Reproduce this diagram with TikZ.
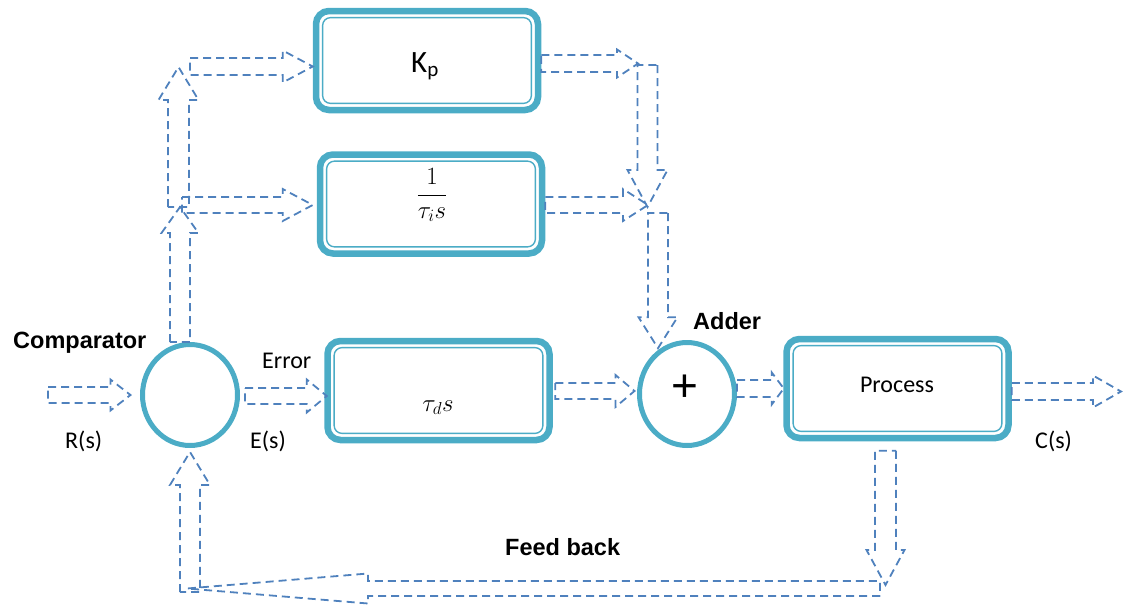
\documentclass[tikz,border=0pt]{standalone}
\usepackage{fontspec}
\setmainfont{Carlito}
\newfontfamily\labfont{Liberation Sans}
\usetikzlibrary{calc,shapes.geometric}

\definecolor{aqua}{HTML}{4BACC6}
\definecolor{flowblue}{HTML}{4F81BD}

\tikzset{
  % block-arrow geometry: shaft half width, head half width, head length
  bsw/.store in=\bsw, bhw/.store in=\bhw, bhl/.store in=\bhl,
  bsw=8pt, bhw=16pt, bhl=20pt,
  flow/.style={draw=flowblue, line width=1.8pt, dash pattern=on 8pt off 5pt,
    line join=miter,
    to path={($(\tikztostart)!\bsw!90:(\tikztotarget)$)
      -- ($(\tikztotarget)!\bhl!(\tikztostart)!\bsw!90:(\tikztotarget)$)
      -- ($(\tikztotarget)!\bhl!(\tikztostart)!\bhw!90:(\tikztotarget)$)
      -- (\tikztotarget)
      -- ($(\tikztotarget)!\bhl!(\tikztostart)!\bhw!-90:(\tikztotarget)$)
      -- ($(\tikztotarget)!\bhl!(\tikztostart)!\bsw!-90:(\tikztotarget)$)
      -- ($(\tikztostart)!\bsw!-90:(\tikztotarget)$) -- cycle}},
  block/.style={draw=aqua, line width=6.5pt, rounded corners=13pt, fill=white,
    minimum width=222pt, minimum height=99pt, inner sep=0pt,
    path picture={\draw[aqua, line width=1.4pt, rounded corners=8pt]
      ([xshift=6.6pt,yshift=-6.6pt]path picture bounding box.north west) rectangle
      ([xshift=-6.6pt,yshift=6.6pt]path picture bounding box.south east);}},
  ring/.style={ellipse, draw=aqua, line width=5pt, fill=white, inner sep=0pt},
  lab/.style={inner sep=0pt, font=\fontsize{24}{28}\selectfont},
  blab/.style={inner sep=0pt, font=\labfont\bfseries\fontsize{23.5}{28}\selectfont},
}

\begin{document}
\begin{tikzpicture}[x=1pt,y=-1pt]
\useasboundingbox (0,0) rectangle (1132,605);

% blocks
\node[block] (kp)   at (427,60.5)  {};
\node[block] (ti)   at (431,204)   {};
\node[block] (td)   at (438.5,390.5) {};
\node[block] (proc) at (897.5,388.5) {};
\node[ring, minimum width=95pt, minimum height=101pt] (cmp) at (190,395) {};
\node[ring, minimum width=95pt, minimum height=103pt] (add) at (687,394) {};

% block contents
\node[inner sep=0pt, anchor=base west] (kptext) at (411,72) {\fontsize{31}{32}\selectfont K\raisebox{-4pt}{\fontsize{21}{22}\selectfont p}};
\node[inner sep=0pt] (titext) at (432,195) {\fontsize{23}{28}\selectfont $\displaystyle\frac{1}{\tau_i s}$};
\node[inner sep=0pt, anchor=base] (tdtext) at (438,411) {\fontsize{27}{30}\selectfont $\tau_d s$};
\node[lab, anchor=base] (proctext) at (897,392) {Process};
\node[inner sep=0pt] (plus) at (685,388) {\labfont\fontsize{46}{46}\selectfont +};

% labels
\node[blab, anchor=base west] (lcmp) at (13,348) {Comparator};
\node[blab, anchor=base west] (ladd) at (693,329) {Adder};
\node[blab, anchor=base west] (lfb)  at (505,555) {Feed back};
\node[lab, anchor=base west] (lrs)  at (65,448)   {R(s)};
\node[lab, anchor=base west] (les)  at (250,448)  {E(s)};
\node[lab, anchor=base west] (lerr) at (262,368)  {Error};
\node[lab, anchor=base west] (lcs)  at (1035,448) {C(s)};

% free ends and bends of the flow arrows
\coordinate (rin) at (48,395);
\coordinate (cout) at (1121,391.5);
\coordinate (j1a) at (638,63.5);
\coordinate (j1b) at (647.5,65);
\coordinate (j1c) at (647.5,207);
\coordinate (j2a) at (648,205);
\coordinate (j2b) at (658,213);
\coordinate (c2) at (180,207);
\coordinate (c3) at (182,205);
\coordinate (c4) at (178.5,207);
\coordinate (c5) at (178.5,67);
\coordinate (c6) at (190,66.5);
\coordinate (f2) at (885.5,585);
\coordinate (f3) at (880,588.5);
\coordinate (f4) at (187,588.5);
\coordinate (f5) at (190,592);

% forward path
\draw[flow, bhl=20pt, bhw=15.5pt] (rin) to ([xshift=-9.5pt]cmp.west);
\draw[flow, bhl=20pt, bhw=16.5pt] ([xshift=5pt,yshift=-1pt]cmp.east) to ([xshift=2.5pt,yshift=-5.5pt]td.west);
\draw[flow, bhl=19pt, bhw=16pt] ([xshift=2.5pt,yshift=-0.5pt]td.east) to ([xshift=-2.5pt,yshift=3pt]add.west);
\draw[flow, bhl=12pt, bhw=16pt, bsw=8.5pt] ([yshift=5.5pt]add.east) to ([xshift=0.5pt]proc.west);
\draw[flow, bhl=28pt, bhw=16pt, bsw=8.5pt] ([yshift=-3pt]proc.east) to (cout);

% branches to the proportional and integral blocks
\draw[flow, bhl=26pt, bhw=18.5pt, bsw=10pt] ([xshift=-10pt]cmp.north) to (c2);
\draw[flow, bhl=30pt, bhw=16pt] (c3) to ([xshift=-4pt,yshift=-1pt]ti.west);
\draw[flow, bhl=33pt, bhw=20pt, bsw=10.5pt] (c4) to (c5);
\draw[flow, bhl=30pt, bhw=16pt, bsw=8.5pt] (c6) to ([yshift=-6pt]kp.west);

% outputs of the blocks into the adder
\draw[flow, bhl=21pt, bhw=14pt, bsw=8.5pt] ([yshift=-3pt]kp.east) to (j1a);
\draw[flow, bhl=37pt, bhw=20pt, bsw=10pt] (j1b) to (j1c);
\draw[flow, bhl=25pt, bhw=16pt] ([yshift=-1pt]ti.east) to (j2a);
\draw[flow, bhl=31pt, bhw=19.5pt, bsw=10pt] (j2b) to (j2b |- add.120);

% feedback loop
\draw[flow, bhl=35pt, bhw=19pt, bsw=10.5pt] ([xshift=-12pt,yshift=-9.5pt]proc.south) to (f2);
\draw[flow, bhl=181pt, bhw=15pt, bsw=7.5pt] (f3) to (f4);
\draw[flow, bhl=33pt, bhw=20pt, bsw=10pt] (f5) to ([yshift=-4pt]cmp.south);
\end{tikzpicture}
\end{document}
